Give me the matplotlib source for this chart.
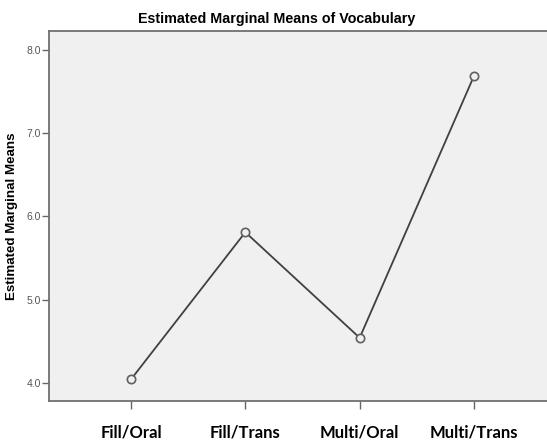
import numpy as np
import matplotlib
matplotlib.use("Agg")
import matplotlib.pyplot as plt

# data
groups = ["Fill/Oral", "Fill/Trans", "Multi/Oral", "Multi/Trans"]
means = [4.04, 5.81, 4.54, 7.69]
yticks = [4.0, 5.0, 6.0, 7.0, 8.0]

fig = plt.figure(figsize=(5.47, 4.42), dpi=100)
ax = fig.add_axes([49/547, 41/442, 507/547, 370/442])
ax.set_facecolor("#f0f0f0")

x = np.arange(len(groups))
ax.plot(x, means, color="#404040", lw=1.3, marker="o", ms=6,
        mfc="#f0f0f0", mec="#606060", mew=1.2)

ax.set_xlim(-0.717, 3.717)
ax.set_ylim(3.78, 8.23)
ax.set_xticks(x)
ax.set_xticklabels(groups, fontfamily="Lato", fontweight="bold", fontsize=12, color="black")
ax.set_yticks(yticks)
ax.set_yticklabels(["%.1f" % v for v in yticks], fontsize=7.5, color="#555555",
                   fontfamily="Liberation Sans")

ax.tick_params(axis="x", length=6, width=1, color="#666666", pad=11)
ax.tick_params(axis="y", length=5, width=1, color="#666666", pad=1)

for s in ["left", "bottom", "top", "right"]:
    ax.spines[s].set_color("#707070")
    ax.spines[s].set_linewidth(1.3)

ax.set_ylabel("Estimated Marginal Means", fontfamily="Liberation Sans",
              fontweight="bold", fontsize=9.6, labelpad=6)
fig.text(277/547, 1 - 19/442, "Estimated Marginal Means of Vocabulary",
         ha="center", va="center", fontfamily="Liberation Sans",
         fontweight="bold", fontsize=10.3)

fig.savefig("out.png", dpi=100)
